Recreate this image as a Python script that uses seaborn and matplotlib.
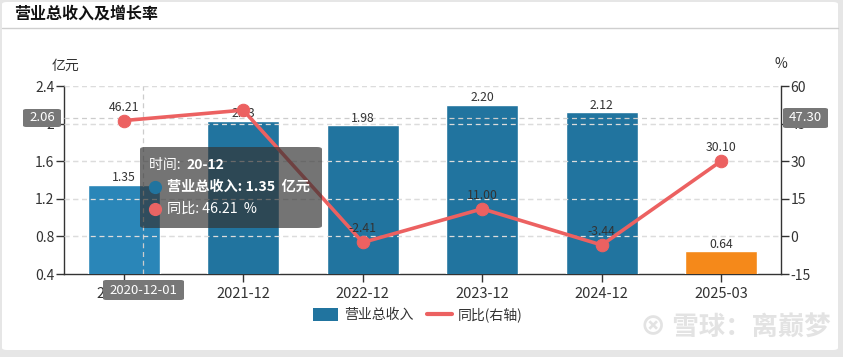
import numpy as np
import pandas as pd
import matplotlib
matplotlib.use("Agg")
import matplotlib.pyplot as plt
from matplotlib.patches import FancyBboxPatch, Patch
from matplotlib.lines import Line2D
import seaborn as sns

# ---- data ----
categories = ["2020-12", "2021-12", "2022-12", "2023-12", "2024-12", "2025-03"]
revenue = [1.35, 2.03, 1.98, 2.20, 2.12, 0.64]          # 亿元
yoy = [46.21, 50.37, -2.41, 11.00, -3.44, 30.10]         # %
yoy_label_shown = [True, False, True, True, True, True]
left_ticks = [0.4, 0.8, 1.2, 1.6, 2.0, 2.4]
right_ticks = [-15, 0, 15, 30, 45, 60]
bar_colors = ["#2a86b8", "#21749f", "#21749f", "#21749f", "#21749f", "#f5891a"]
pointer_left = 2.06
pointer_right = 47.30
pointer_x_label = "2020-12-01"

sns.set_theme(style="white")
plt.rcParams["font.family"] = ["Noto Sans CJK SC", "DejaVu Sans"]
plt.rcParams["axes.unicode_minus"] = False

W, H = 843, 357
fig = plt.figure(figsize=(W / 100, H / 100), dpi=100)
fig.patch.set_facecolor("#e6e6e6")

def fx(x):
    return x / W

def fy(y):
    return 1 - y / H

# white card
card = FancyBboxPatch((fx(2), fy(350)), fx(836), 348 / H, boxstyle="round,pad=0,rounding_size=0.006",
                      transform=fig.transFigure, facecolor="white", edgecolor="none", zorder=0)
fig.patches.append(card)
fig.add_artist(Line2D([fx(2), fx(838)], [fy(28), fy(28)], color="#cfcfcf", lw=1, transform=fig.transFigure))
fig.text(fx(14), fy(14), "营业总收入及增长率", fontsize=11.5, fontweight="bold", color="#111", va="center", ha="left")

ax = fig.add_axes([fx(64), fy(274), fx(781) - fx(64), (274 - 86) / H])
ax.set_facecolor("none")

df = pd.DataFrame({"cat": categories, "rev": revenue, "yoy": yoy})
sns.barplot(data=df, x="cat", y="rev", hue="cat", palette=bar_colors, legend=False,
            width=0.6, ax=ax, zorder=3, saturation=1)
ax.set_ylim(left_ticks[0], left_ticks[-1])
ax.set_xlim(-0.5, len(categories) - 0.5)
ax.set_yticks(left_ticks)
ax.set_yticklabels([f"{t:g}" for t in left_ticks])
ax.set_xlabel("")
ax.set_ylabel("")
for i, v in enumerate(revenue):
    ax.annotate(f"{v:.2f}", (i, v), xytext=(0, 0.5), textcoords="offset points",
                ha="center", va="bottom", fontsize=8.8, color="#333", zorder=6)
for t in left_ticks[1:]:
    ax.axhline(t, color="#dcdcdc", lw=0.9, ls=(0, (4, 3)), zorder=1)

ax2 = ax.twinx()
ax2.set_facecolor("none")
ax2.set_ylim(right_ticks[0], right_ticks[-1])
ax2.set_yticks(right_ticks)
ax2.set_yticklabels([f"{t:g}" for t in right_ticks])
for t in right_ticks[1:]:
    ax2.axhline(t, color="#dcdcdc", lw=0.9, ls=(0, (4, 3)), zorder=1)
xs = np.arange(len(categories))
sns.lineplot(x=xs, y=yoy, ax=ax2, color="#ec6161", lw=2.6, marker="o", markersize=9,
             markeredgecolor="#ec6161", zorder=5, legend=False)
for i, (v, show) in enumerate(zip(yoy, yoy_label_shown)):
    if show:
        ax2.annotate(f"{v:.2f}", (i, v), xytext=(0, 5), textcoords="offset points",
                     ha="center", va="bottom", fontsize=8.8, color="#333", zorder=6)

for a in (ax, ax2):
    for s in a.spines.values():
        s.set_visible(False)
ax.spines["left"].set_visible(True)
ax.spines["bottom"].set_visible(True)
ax2.spines["right"].set_visible(True)
for s in (ax.spines["left"], ax.spines["bottom"], ax2.spines["right"]):
    s.set_color("#333")
    s.set_linewidth(1)
ax.tick_params(axis="y", which="both", left=True, length=6, width=1, color="#333", labelsize=10,
               labelcolor="#333", pad=1)
ax.tick_params(axis="x", bottom=True, length=6, width=1, color="#333", labelsize=10.5, labelcolor="#333", pad=3)
ax2.tick_params(axis="y", right=True, length=6, width=1, color="#333", labelsize=10, labelcolor="#333", pad=1)
ax.set_zorder(1)
ax2.set_zorder(2)

fig.text(fx(65), fy(66), "亿元", fontsize=10, color="#333", ha="center", va="center")
fig.text(fx(781), fy(64), "%", fontsize=10, color="#333", ha="center", va="center")

# crosshair pointer
ax.axhline(pointer_left, color="#cccccc", lw=0.9, ls=(0, (4, 3)), zorder=4)
px_data = (143 - 64) / 119.5 - 0.5
ax.axvline(px_data, color="#cccccc", lw=0.9, ls=(0, (4, 3)), zorder=4)

def label_box(x0, y0, w, h, text):
    fig.patches.append(FancyBboxPatch((fx(x0), fy(y0 + h)), w / W, h / H,
                                      boxstyle="round,pad=0,rounding_size=0.004",
                                      transform=fig.transFigure, facecolor="#777777",
                                      edgecolor="none", zorder=10))
    fig.text(fx(x0 + w / 2), fy(y0 + h / 2), text, fontsize=9.5, color="white",
             ha="center", va="center", zorder=11)

label_box(23, 109, 38, 18, f"{pointer_left:.2f}")
label_box(783, 108, 45, 20, f"{pointer_right:.2f}")
label_box(103, 280, 81, 20, pointer_x_label)

# tooltip
fig.patches.append(FancyBboxPatch((fx(140), fy(228)), 182 / W, 81 / H,
                                  boxstyle="round,pad=0,rounding_size=0.006",
                                  transform=fig.transFigure, facecolor=(0.2, 0.2, 0.2, 0.68),
                                  edgecolor="none", zorder=12))
fig.text(fx(149), fy(165), "时间: ", fontsize=10, color="white", ha="left", va="center", zorder=13)
fig.text(fx(186), fy(165), "20-12", fontsize=10, color="white", fontweight="bold", ha="left", va="center", zorder=13)
fig.add_artist(Line2D([fx(155)], [fy(187)], marker="o", markersize=8.5, color="#21749f",
                      transform=fig.transFigure, zorder=13))
fig.text(fx(167), fy(187), f"营业总收入: {revenue[0]:.2f}  亿元", fontsize=10.2, color="white",
         fontweight="bold", ha="left", va="center", zorder=13)
fig.add_artist(Line2D([fx(155)], [fy(209)], marker="o", markersize=8.5, color="#e86464",
                      transform=fig.transFigure, zorder=13))
fig.text(fx(167), fy(209), f"同比: {yoy[0]:.2f}  %", fontsize=10.2, color="white",
         ha="left", va="center", zorder=13)

# legend
handles = [Patch(facecolor="#21749f", edgecolor="none", label="营业总收入"),
           Line2D([0], [0], color="#ec6161", lw=3, label="同比(右轴)")]
fig.legend(handles=handles, loc="center", bbox_to_anchor=(fx(418), fy(315)), ncol=2, frameon=False,
           fontsize=10, handlelength=1.8, handleheight=1.1, columnspacing=1.0, handletextpad=0.4,
           labelcolor="#333")

# watermark
fig.text(fx(735), fy(327), "⊗ 雪球：离巅梦", fontsize=19, color="#e3e3e3", ha="center", va="center",
         fontweight="bold", family=["Noto Sans CJK SC", "DejaVu Sans"])

fig.savefig("out.png", dpi=100, facecolor=fig.get_facecolor())
